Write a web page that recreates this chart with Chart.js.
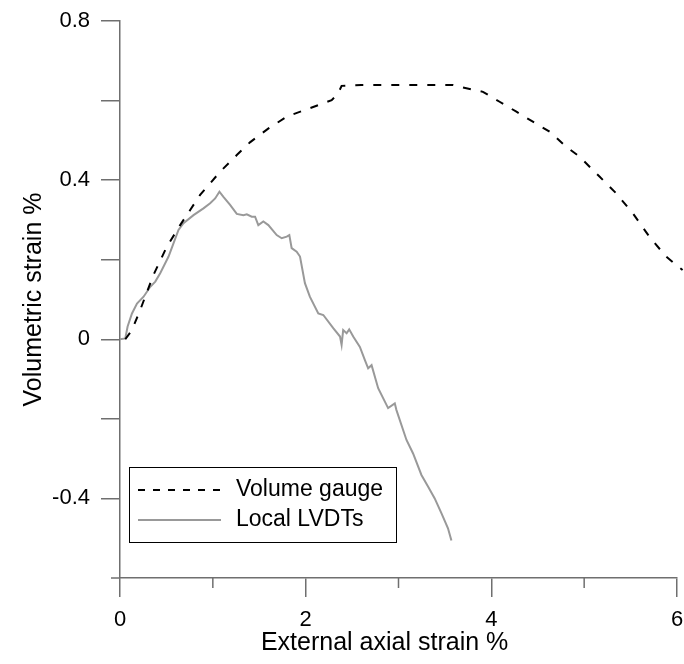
<!DOCTYPE html>
<html>
<head>
<meta charset="utf-8">
<script src="https://cdn.jsdelivr.net/npm/chart.js@4.4.1/dist/chart.umd.min.js"></script>
<style>
  html, body { margin: 0; padding: 0; background: #fff; }
  #wrap { width: 684px; height: 664px; }
</style>
</head>
<body>
<div id="wrap"><canvas id="chart" width="684" height="664"></canvas></div>
<script>
// values
const gaugeX = [0.057, 0.128, 0.218, 0.361, 0.505, 0.648, 0.756, 0.863, 0.971, 1.078, 1.258, 1.4, 1.6, 1.8, 2.011, 2.28, 2.35, 2.387, 2.6, 3.0, 3.3, 3.587, 3.695, 3.91, 4.089, 4.27, 4.447, 4.627, 4.806, 4.95, 5.165, 5.344, 5.523, 5.702, 5.882, 6.06];
const gaugeY = [0, 0.023, 0.074, 0.162, 0.233, 0.287, 0.325, 0.363, 0.392, 0.421, 0.463, 0.495, 0.53, 0.56, 0.578, 0.601, 0.618, 0.637, 0.639, 0.639, 0.639, 0.639, 0.633, 0.622, 0.597, 0.572, 0.547, 0.522, 0.484, 0.459, 0.409, 0.367, 0.317, 0.258, 0.208, 0.174];

const lvdtX = [0.0, 0.057, 0.082, 0.129, 0.183, 0.254, 0.326, 0.38, 0.433, 0.523, 0.576, 0.63, 0.684, 0.792, 0.899, 0.971, 1.025, 1.071, 1.114, 1.186, 1.258, 1.329, 1.366, 1.419, 1.455, 1.49, 1.544, 1.598, 1.688, 1.742, 1.796, 1.824, 1.849, 1.903, 1.939, 1.992, 2.045, 2.136, 2.19, 2.297, 2.37, 2.387, 2.404, 2.441, 2.469, 2.512, 2.584, 2.637, 2.673, 2.71, 2.781, 2.888, 2.96, 2.978, 3.086, 3.157, 3.247, 3.318, 3.39, 3.462, 3.533, 3.57];
const lvdtY = [0, 0.002, 0.032, 0.065, 0.09, 0.107, 0.132, 0.145, 0.166, 0.208, 0.241, 0.275, 0.292, 0.312, 0.329, 0.342, 0.354, 0.371, 0.358, 0.338, 0.315, 0.312, 0.314, 0.308, 0.308, 0.287, 0.296, 0.287, 0.262, 0.254, 0.258, 0.262, 0.229, 0.22, 0.208, 0.141, 0.107, 0.065, 0.061, 0.028, 0.007, -0.014, 0.023, 0.015, 0.025, 0.007, -0.019, -0.052, -0.073, -0.065, -0.123, -0.173, -0.161, -0.178, -0.253, -0.287, -0.341, -0.37, -0.4, -0.437, -0.475, -0.506];

const seriesNames = ['Volume gauge', 'Local LVDTs'];
const xLabels = [0, 2, 4, 6];
const yLabels = [0.8, 0.4, 0, -0.4];

const AXIS = '#6f6f6f';
const FONT = '"Liberation Sans", Arial, sans-serif';

const toPoints = (xs, ys) => xs.map((x, i) => ({ x, y: ys[i] }));
const near = (v, list) => list.some(l => Math.abs(l - v) < 1e-6);

// minor ticks + boxed legend
const extras = {
    id: 'extras',
    afterDraw(chart) {
        const ctx = chart.ctx;
        const xs = chart.scales.x, ys = chart.scales.y;
        ctx.save();
        ctx.strokeStyle = AXIS;
        ctx.lineWidth = 1.5;
        xs.ticks.forEach(t => {
            if (near(t.value, xLabels)) return;
            const px = xs.getPixelForValue(t.value);
            ctx.beginPath();
            ctx.moveTo(px, xs.top);
            ctx.lineTo(px, xs.top + 10);
            ctx.stroke();
        });
        const yb = ys.getPixelForValue(ys.min);
        ctx.beginPath();
        ctx.moveTo(ys.right, yb);
        ctx.lineTo(ys.right - 9, yb);
        ctx.stroke();

        // legend box
        const a = chart.chartArea;
        const bx = a.left + 9, by = a.bottom - 111, bw = 267, bh = 75;
        ctx.strokeStyle = '#000';
        ctx.lineWidth = 1;
        ctx.strokeRect(bx + 0.5, by + 0.5, bw, bh);
        ctx.font = '23px ' + FONT;
        ctx.fillStyle = '#000';
        ctx.textBaseline = 'middle';
        chart.data.datasets.forEach((ds, i) => {
            const ry = by + 23 + i * 30;
            ctx.strokeStyle = ds.borderColor;
            ctx.lineWidth = ds.borderWidth;
            ctx.setLineDash(i === 0 ? [7, 8] : []);
            ctx.beginPath();
            ctx.moveTo(bx + 9, ry);
            ctx.lineTo(bx + 92, ry);
            ctx.stroke();
            ctx.setLineDash([]);
            ctx.fillText(ds.label, bx + 107, ry);
        });
        ctx.restore();
    }
};

new Chart(document.getElementById('chart'), {
    type: 'scatter',
    data: {
        datasets: [{
            label: seriesNames[0],
            data: toPoints(gaugeX, gaugeY),
            showLine: true,
            borderColor: '#000',
            borderWidth: 2,
            borderDash: [8, 10],
            pointRadius: 0,
            tension: 0,
            clip: false
        }, {
            label: seriesNames[1],
            data: toPoints(lvdtX, lvdtY),
            showLine: true,
            borderColor: '#999999',
            borderWidth: 2,
            pointRadius: 0,
            tension: 0
        }]
    },
    options: {
        responsive: false,
        animation: false,
        layout: { padding: { left: 0, right: 7, top: 21, bottom: 0 } },
        plugins: { legend: { display: false }, tooltip: { enabled: false } },
        scales: {
            x: {
                type: 'linear',
                min: 0, max: 6,
                afterFit: s => { s.height = 86; s.paddingLeft = 0; s.paddingRight = 0; },
                border: { display: true, color: AXIS, width: 1.5 },
                grid: {
                    drawOnChartArea: false,
                    tickLength: 19,
                    lineWidth: 1.5,
                    tickColor: c => near(c.tick.value, xLabels) ? AXIS : 'rgba(0,0,0,0)'
                },
                ticks: {
                    stepSize: 1,
                    padding: 10,
                    color: '#000',
                    font: { family: FONT, size: 22 },
                    maxRotation: 0,
                    callback: v => near(v, xLabels) ? String(v) : ''
                },
                title: {
                    display: true,
                    // trailing spaces nudge the centred title left, as in the original
                    text: 'External axial strain %\u00a0\u00a0\u00a0\u00a0',
                    color: '#000',
                    font: { family: FONT, size: 25 },
                    padding: { top: 0, bottom: 6 }
                }
            },
            y: {
                type: 'linear',
                min: -0.6, max: 0.8,
                afterFit: s => { s.width = 120; s.paddingTop = 0; s.paddingBottom = 0; },
                border: { display: true, color: AXIS, width: 1.5 },
                grid: {
                    drawOnChartArea: false,
                    tickLength: 19,
                    lineWidth: 1.5,
                    tickColor: c => c.tick.value < -0.55 ? 'rgba(0,0,0,0)' : AXIS
                },
                ticks: {
                    stepSize: 0.2,
                    padding: 11,
                    color: '#000',
                    font: { family: FONT, size: 22 },
                    callback: v => near(v, yLabels) ? String(Math.round(v * 10) / 10) : ''
                },
                title: {
                    display: true,
                    text: 'Volumetric strain %',
                    color: '#000',
                    font: { family: FONT, size: 25 },
                    padding: { top: 19, bottom: 0 }
                }
            }
        }
    },
    plugins: [extras]
});
</script>
</body>
</html>
